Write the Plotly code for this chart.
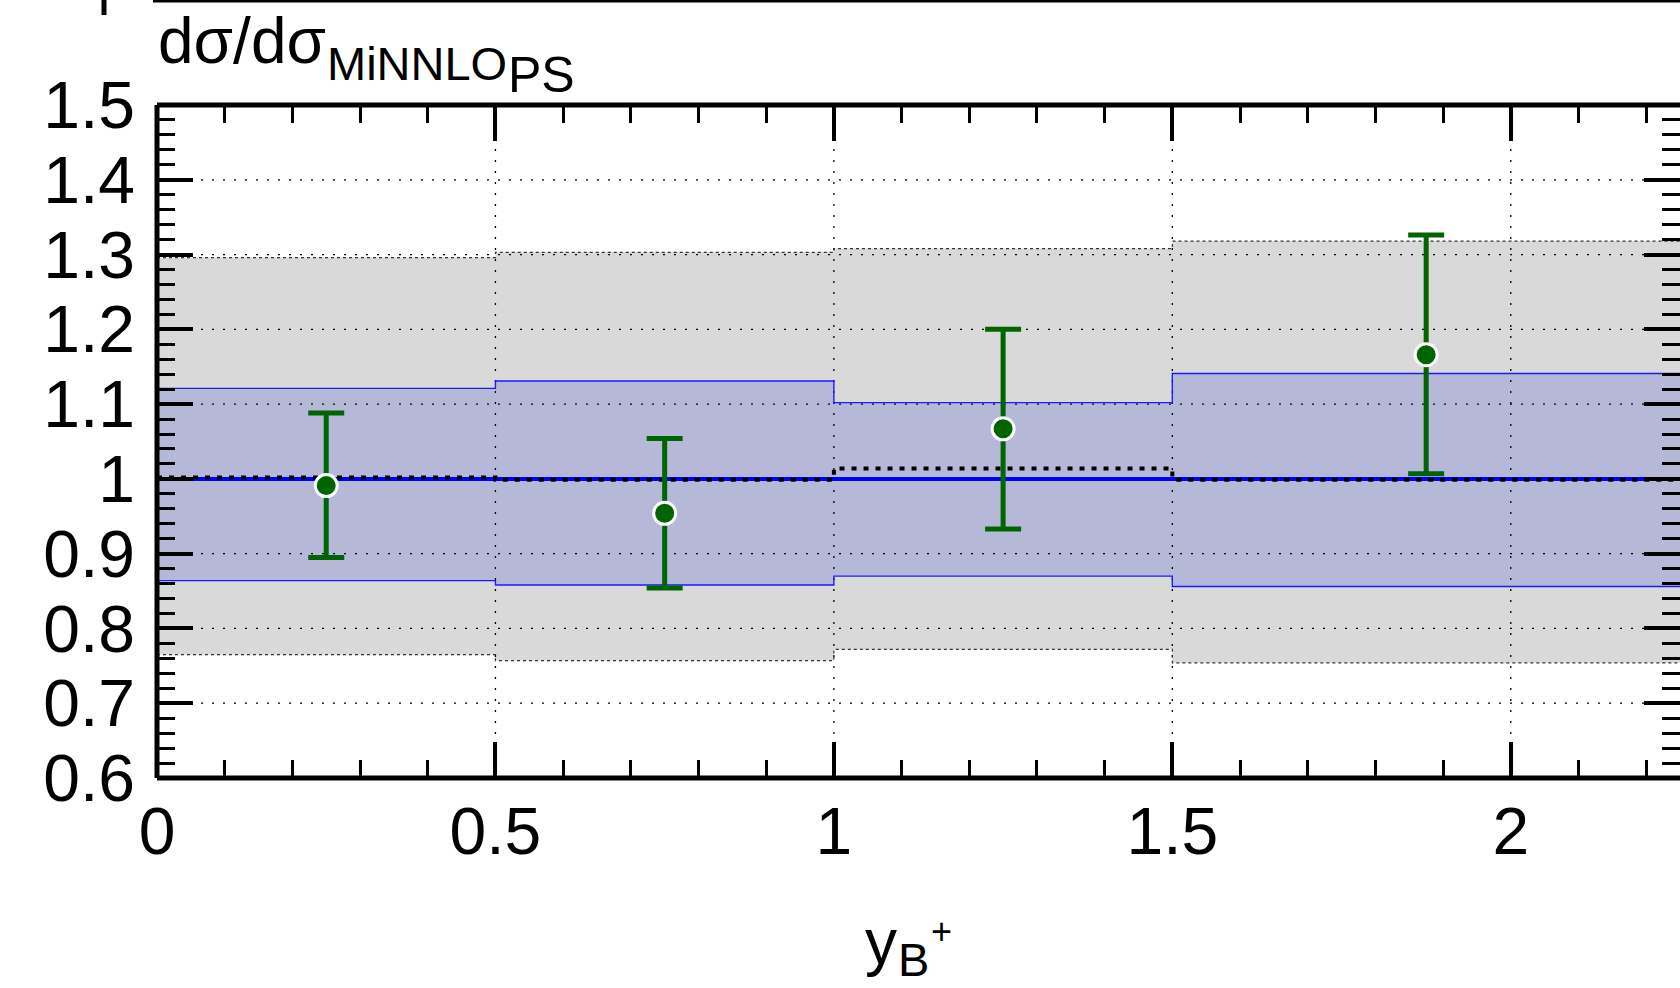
import plotly.graph_objects as go

# ---------------- data ----------------
bin_edges = [0.0, 0.5, 1.0, 1.5, 2.25]
outer_hi = [1.296, 1.303, 1.308, 1.318]
outer_lo = [0.765, 0.757, 0.772, 0.754]
inner_hi = [1.121, 1.131, 1.102, 1.141]
inner_lo = [0.864, 0.858, 0.870, 0.856]
central = [1.0, 1.0, 1.0, 1.0]
alt_central = [1.002, 0.999, 1.014, 0.999]
data_x = [0.25, 0.75, 1.25, 1.875]
data_y = [0.991, 0.954, 1.067, 1.166]
err_up = [0.097, 0.100, 0.133, 0.160]
err_down = [0.096, 0.100, 0.134, 0.159]
x_grid = [0.5, 1.0, 1.5, 2.0]
y_grid = [0.7, 0.8, 0.9, 1.0, 1.1, 1.2, 1.3, 1.4]

# ---------------- layout constants ----------------
W, H = 1680, 988
ML, MR, MT, MB = 157, 0, 105, 210
X_RANGE = [0, 2.25]
Y_RANGE = [0.6, 1.5]
FONT = "Liberation Sans, Arial, Helvetica, sans-serif"
PW, PH = W - ML - MR, H - MT - MB


def px(xp):
    return (xp - ML) / PW


def py(yp):
    return (H - MB - yp) / PH


def step(vals):
    return list(vals) + [vals[-1]]


fig = go.Figure()

# outer (grey) band
fig.add_trace(go.Scatter(x=bin_edges, y=step(outer_lo), mode="lines",
                         line=dict(width=0, shape="hv"), hoverinfo="skip", showlegend=False))
fig.add_trace(go.Scatter(x=bin_edges, y=step(outer_hi), mode="lines",
                         line=dict(width=0, shape="hv"), fill="tonexty",
                         fillcolor="#d9d9d9", hoverinfo="skip", showlegend=False))
# inner (blue) band
fig.add_trace(go.Scatter(x=bin_edges, y=step(inner_lo), mode="lines",
                         line=dict(width=0, shape="hv"), hoverinfo="skip", showlegend=False))
fig.add_trace(go.Scatter(x=bin_edges, y=step(inner_hi), mode="lines",
                         line=dict(width=0, shape="hv"), fill="tonexty",
                         fillcolor="#b6b8d8", hoverinfo="skip", showlegend=False))

# grid lines (drawn above bands)
gx, gy = [], []
for v in x_grid:
    gx += [v, v, None]
    gy += [Y_RANGE[0], Y_RANGE[1], None]
for v in y_grid:
    gx += [X_RANGE[0], X_RANGE[1], None]
    gy += [v, v, None]
fig.add_trace(go.Scatter(x=gx, y=gy, mode="lines",
                         line=dict(color="black", width=1.3, dash="2px,9px"),
                         hoverinfo="skip", showlegend=False))

# band edges
for arr in (outer_lo, outer_hi):
    fig.add_trace(go.Scatter(x=bin_edges, y=step(arr), mode="lines",
                             line=dict(color="#333333", width=1.2, dash="3px,3px", shape="hv"),
                             hoverinfo="skip", showlegend=False))
for arr in (inner_lo, inner_hi):
    fig.add_trace(go.Scatter(x=bin_edges, y=step(arr), mode="lines",
                             line=dict(color="#1a1aff", width=1.4, shape="hv"),
                             hoverinfo="skip", showlegend=False))

# central lines
fig.add_trace(go.Scatter(x=bin_edges, y=step(central), mode="lines",
                         line=dict(color="#0000ff", width=4, shape="hv"),
                         hoverinfo="skip", showlegend=False))
fig.add_trace(go.Scatter(x=bin_edges, y=step(alt_central), mode="lines",
                         line=dict(color="black", width=4, dash="5px,7px", shape="hv"),
                         hoverinfo="skip", showlegend=False))

# data points
fig.add_trace(go.Scatter(x=data_x, y=data_y, mode="markers",
                         marker=dict(size=22, color="#006400", line=dict(color="white", width=3)),
                         error_y=dict(type="data", array=err_up, arrayminus=err_down,
                                      color="#006400", thickness=5, width=18),
                         showlegend=False))

# invisible trace to anchor mirror axes
fig.add_trace(go.Scatter(x=bin_edges, y=step(central), mode="markers",
                         marker=dict(opacity=0), xaxis="x2", yaxis="y2",
                         hoverinfo="skip", showlegend=False))

tickfont = dict(family=FONT, size=66, color="black")
common_x = dict(range=X_RANGE, tick0=0, dtick=0.5, ticks="inside", ticklen=36, tickwidth=3.5,
                tickcolor="black", showline=False,
                showgrid=False, zeroline=False,
                minor=dict(ticks="inside", ticklen=18, tickwidth=3, tickcolor="black",
                           dtick=0.1, tick0=0, showgrid=False))
common_y = dict(range=Y_RANGE, tick0=0.6, dtick=0.1, ticks="inside", ticklen=36, tickwidth=3.5,
                tickcolor="black", showgrid=False, zeroline=False, showline=False,
                minor=dict(ticks="inside", ticklen=18, tickwidth=3, tickcolor="black",
                           dtick=0.02, tick0=0.6, showgrid=False))

fig.update_layout(
    width=W, height=H,
    margin=dict(l=ML, r=MR, t=MT, b=MB, pad=0),
    paper_bgcolor="white", plot_bgcolor="white",
    font=dict(family=FONT, color="black"),
    xaxis=dict(**common_x, tickfont=tickfont, ticklabelstandoff=9, layer="above traces"),
    xaxis2=dict(**common_x, overlaying="x", side="top", showticklabels=False, layer="above traces"),
    yaxis=dict(**common_y, tickfont=tickfont, ticklabelstandoff=21, layer="above traces"),
    yaxis2=dict(**common_y, overlaying="y", side="right",
                showticklabels=False, layer="above traces"),
    showlegend=False,
)

# axis frame lines (left, bottom, top)
frame = dict(type="line", xref="paper", yref="paper", line=dict(color="black", width=5), layer="above")
fig.add_shape(**frame, x0=0, x1=0, y0=0, y1=1)
fig.add_shape(**frame, x0=0, x1=1, y0=0, y1=0)
fig.add_shape(**frame, x0=0, x1=1, y0=1, y1=1)

# y label (top left)
ann = []
ann.append(dict(text="dσ/dσ", x=px(157), y=py(63 - 0.3465 * 64), xanchor="left", yanchor="middle",
                font=dict(family=FONT, size=64, color="black")))
ann.append(dict(text="MiNNLO", x=px(326), y=py(80 - 0.3465 * 47), xanchor="left", yanchor="middle",
                font=dict(family=FONT, size=47, color="black")))
ann.append(dict(text="PS", x=px(507), y=py(92 - 0.3465 * 50), xanchor="left", yanchor="middle",
                font=dict(family=FONT, size=50, color="black")))
# x label (bottom)
ann.append(dict(text="y", x=px(864), y=py(964 - 0.3465 * 64), xanchor="left", yanchor="middle",
                font=dict(family=FONT, size=64, color="black")))
ann.append(dict(text="B", x=px(897), y=py(976 - 0.3465 * 47), xanchor="left", yanchor="middle",
                font=dict(family=FONT, size=47, color="black")))
ann.append(dict(text="+", x=px(930), y=py(931), xanchor="left", yanchor="middle",
                font=dict(family=FONT, size=36, color="black")))
for a in ann:
    a.update(xref="paper", yref="paper", showarrow=False, borderpad=0)
fig.update_layout(annotations=ann)

# remnants of the panel above
fig.add_shape(type="line", xref="paper", yref="paper", x0=px(153), x1=px(1680),
              y0=py(1), y1=py(1), line=dict(color="black", width=3))
fig.add_shape(type="line", xref="paper", yref="paper", x0=px(104), x1=px(104),
              y0=py(0), y1=py(15), line=dict(color="black", width=5))

fig.write_html("out.html")
